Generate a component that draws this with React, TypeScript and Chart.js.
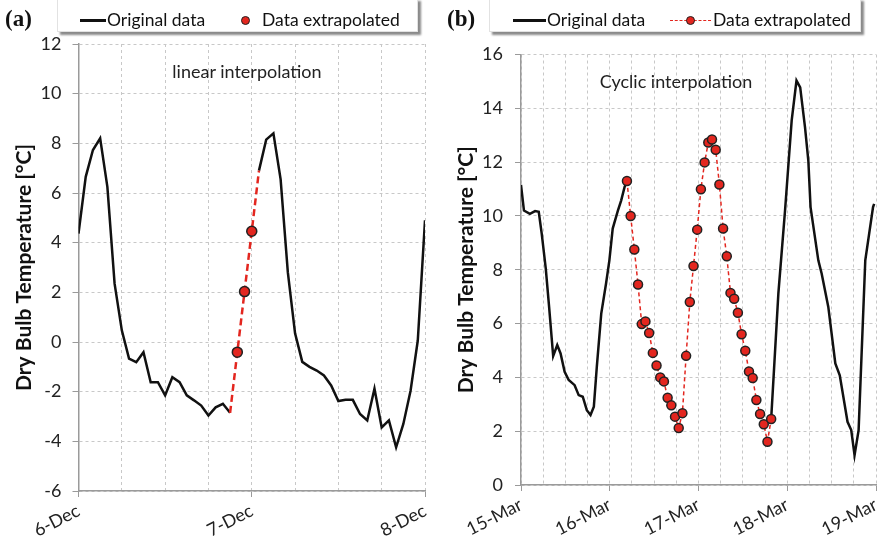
import React, { useEffect, useRef } from 'react';
import { Chart, registerables } from 'chart.js';

Chart.register(...registerables);

const FONT = 'Lato, "Open Sans", sans-serif';
const RED = '#e3261f';
const GRID = '#c8c8c8';
const AXIS = '#9a9a9a';
const TXT = '#222';

// ---------- Panel (a): December, linear interpolation ----------
const decTickLabels = ['6-Dec', '7-Dec', '8-Dec'];
const decOrigAStart = 0; // hours after 6-Dec 00:00
const decOrigA = [4.37, 6.65, 7.73, 8.2, 6.25, 2.35, 0.47, -0.67, -0.81, -0.41, -1.62, -1.62, -2.15, -1.42, -1.62, -2.15, -2.35, -2.56, -2.96, -2.63, -2.49, -2.85];
const decOrigBStart = 25;
const decOrigB = [6.9, 8.15, 8.4, 6.55, 2.8, 0.35, -0.8, -1.0, -1.15, -1.35, -1.75, -2.38, -2.33, -2.33, -2.9, -3.16, -1.88, -3.44, -3.16, -4.24, -3.3, -1.96, 0.06, 4.9];
const decInterpStart = 21;
const decInterp = [-2.85, -0.41, 2.03, 4.46, 6.9];
const decInterpMarkers = [false, true, true, true, false];

// ---------- Panel (b): March, cyclic interpolation ----------
const marTickLabels = ['15-Mar', '16-Mar', '17-Mar', '18-Mar', '19-Mar'];
const marOrigAHours = [0, 0.8, 2.4, 3.8, 4.8, 5.6, 6.7, 7.6, 8.7, 9.8, 10.7, 11.8, 12.9, 14.5, 15.6, 16.7, 17.8, 18.8, 19.7, 20.5, 21.7, 23.0, 23.9, 24.8, 26.2, 27.1, 28.0, 28.65];
const marOrigA = [11.15, 10.2, 10.08, 10.18, 10.15, 9.34, 8.04, 6.62, 4.79, 5.2, 4.89, 4.21, 3.9, 3.71, 3.34, 3.28, 2.78, 2.6, 2.91, 4.39, 6.37, 7.49, 8.35, 9.53, 10.2, 10.58, 11.07, 11.3];
const marInterpStart = 28.65;
const marInterp = [11.3, 10.0, 8.75, 7.45, 5.98, 6.08, 5.65, 4.91, 4.44, 4.0, 3.85, 3.24, 2.96, 2.54, 2.12, 2.67, 4.8, 6.8, 8.14, 9.49, 10.99, 11.99, 12.73, 12.84, 12.46, 11.17, 9.53, 8.5, 7.14, 6.92, 6.4, 5.6, 4.99, 4.22, 3.98, 3.16, 2.64, 2.26, 1.61, 2.45];
const marOrigBHours = [67.65, 69.6, 71.4, 73.2, 74.5, 75.5, 76.8, 77.7, 78.3, 80.4, 81.3, 83.1, 85.0, 86.2, 88.3, 89.3, 90.2, 91.3, 93.1, 95.2, 95.5];
const marOrigB = [2.45, 7.12, 10.2, 13.55, 15.03, 14.78, 13.3, 12.06, 10.33, 8.35, 7.86, 6.62, 4.52, 4.08, 2.35, 2.04, 1.11, 2.04, 8.35, 10.33, 10.45];

const Y_TITLE = 'Dry Bulb Temperature [°C]';

type PanelCfg = {
  xMax: number; yMin: number; yMax: number; labels: string[];
  yWidth: number; xHeight: number; padTop: number; padRight: number;
  titlePad: number; yTickPad: number;
};

function panelOptions(p: PanelCfg): any {
  return {
    responsive: false,
    animation: false,
    events: [],
    layout: { padding: { top: p.padTop, right: p.padRight, left: 0, bottom: 0 } },
    plugins: { legend: { display: false }, tooltip: { enabled: false } },
    scales: {
      x: {
        type: 'linear',
        min: 0,
        max: p.xMax,
        afterFit: (s: any) => { s.height = p.xHeight; s.paddingRight = 0; },
        ticks: {
          stepSize: 6,
          autoSkip: false,
          maxRotation: 27,
          minRotation: 27,
          padding: 3,
          color: TXT,
          font: { family: FONT, size: 18 },
          callback: (v: number) => (v % 24 === 0 ? p.labels[Math.round(v / 24)] : ''),
        },
        grid: {
          color: GRID,
          lineWidth: 1,
          tickLength: 6,
          tickColor: (c: any) => (c.tick && c.tick.value % 24 === 0 ? AXIS : 'rgba(0,0,0,0)'),
        },
        border: { display: true, color: AXIS, width: 1.5, dash: [3, 3] },
      },
      y: {
        min: p.yMin,
        max: p.yMax,
        afterFit: (s: any) => { s.width = p.yWidth; },
        ticks: { stepSize: 2, padding: p.yTickPad, color: TXT, font: { family: FONT, size: 18 } },
        grid: { color: GRID, lineWidth: 1, tickLength: 6, tickColor: AXIS },
        border: { display: true, color: AXIS, width: 1.5, dash: [3, 3] },
        title: {
          display: true,
          text: Y_TITLE,
          color: '#111',
          font: { family: FONT, size: 21, weight: 'bold' },
          padding: { top: p.titlePad, bottom: 0 },
        },
      },
    },
  };
}

function configA(): any {
  return {
    type: 'line',
    data: {
      datasets: [
        {
          data: decInterp.map((v, i) => ({ x: decInterpStart + i, y: v })),
          borderColor: RED,
          borderWidth: 2.5,
          borderDash: [7, 4],
          pointRadius: decInterpMarkers.map((m) => (m ? 5 : 0)),
          pointBackgroundColor: RED,
          pointBorderColor: '#222',
          pointBorderWidth: 1.5,
          tension: 0,
        },
        {
          data: decOrigA.map((v, i) => ({ x: decOrigAStart + i, y: v })),
          borderColor: '#111',
          borderWidth: 2.5,
          pointRadius: 0,
          tension: 0,
        },
        {
          data: decOrigB.map((v, i) => ({ x: decOrigBStart + i, y: v })),
          borderColor: '#111',
          borderWidth: 2.5,
          pointRadius: 0,
          tension: 0,
        },
      ],
    },
    options: panelOptions({
      xMax: 48, yMin: -6, yMax: 12, labels: decTickLabels,
      yWidth: 78.5, xHeight: 54, padTop: 44, padRight: 16, titlePad: 12, yTickPad: 11,
    }),
  };
}

function configB(): any {
  return {
    type: 'line',
    data: {
      datasets: [
        {
          data: marInterp.map((v, i) => ({ x: marInterpStart + i, y: v })),
          borderColor: RED,
          borderWidth: 1.5,
          borderDash: [4, 3],
          pointRadius: 4.5,
          pointBackgroundColor: RED,
          pointBorderColor: '#222',
          pointBorderWidth: 1.5,
          tension: 0,
        },
        {
          data: marOrigA.map((v, i) => ({ x: marOrigAHours[i], y: v })),
          borderColor: '#111',
          borderWidth: 2.5,
          pointRadius: 0,
          tension: 0,
        },
        {
          data: marOrigB.map((v, i) => ({ x: marOrigBHours[i], y: v })),
          borderColor: '#111',
          borderWidth: 2.5,
          pointRadius: 0,
          tension: 0,
        },
      ],
    },
    options: panelOptions({
      xMax: 96, yMin: 0, yMax: 16, labels: marTickLabels,
      yWidth: 80, xHeight: 60, padTop: 54.5, padRight: 4, titlePad: 13, yTickPad: 12,
    }),
  };
}

function Panel({ make, left }: { make: () => any; left: number }) {
  const ref = useRef<HTMLCanvasElement>(null);
  useEffect(() => {
    const chart = new Chart(ref.current as HTMLCanvasElement, make());
    return () => chart.destroy();
  }, []);
  return (
    <canvas
      ref={ref}
      width={441}
      height={545}
      style={{ position: 'absolute', left, top: 0, width: 441, height: 545 }}
    />
  );
}

const abs = (s: React.CSSProperties): React.CSSProperties => ({ position: 'absolute', ...s });
const legendText: React.CSSProperties = {
  position: 'absolute', top: 8, fontFamily: FONT, fontSize: 17.5, color: '#111', lineHeight: '24px', whiteSpace: 'nowrap',
};
const dot = (cx: number, cy: number, r: number): React.CSSProperties => ({
  position: 'absolute', left: cx - r, top: cy - r, width: r * 2, height: r * 2, borderRadius: '50%',
  background: RED, border: '1.5px solid #222', boxSizing: 'border-box',
});

export default function App() {
  return (
    <div style={{ position: 'absolute', left: 0, top: 0, width: 882, height: 545, background: '#fff', overflow: 'hidden' }}>
      <Panel make={configA} left={0} />
      <Panel make={configB} left={441} />

      {/* Legend (a) */}
      <div style={abs({ left: 57, top: -2, width: 361, height: 34, background: '#fff', border: '1px solid #e2e2e2', boxShadow: '3px 3px 2px #8a8a8a', boxSizing: 'border-box' })} />
      <div style={abs({ left: 80, top: 19, width: 26, height: 2.5, background: '#111' })} />
      <div style={{ ...legendText, left: 107 }}>Original data</div>
      <div style={dot(245, 20, 4.5)} />
      <div style={{ ...legendText, left: 262 }}>Data extrapolated</div>

      {/* Legend (b) */}
      <div style={abs({ left: 489, top: -2, width: 372, height: 34, background: '#fff', border: '1px solid #e2e2e2', boxShadow: '3px 3px 2px #8a8a8a', boxSizing: 'border-box' })} />
      <div style={abs({ left: 513, top: 19, width: 33, height: 2.5, background: '#111' })} />
      <div style={{ ...legendText, left: 547 }}>Original data</div>
      <div style={abs({ left: 670, top: 19.5, width: 41, height: 0, borderTop: `1.5px dashed ${RED}` })} />
      <div style={dot(690, 20, 4.5)} />
      <div style={{ ...legendText, left: 713 }}>Data extrapolated</div>

      {/* Panel letters */}
      <div style={abs({ left: 5, top: 6, fontFamily: '"Liberation Serif", "DejaVu Serif", serif', fontWeight: 'bold', fontSize: 23, color: '#111' })}>(a)</div>
      <div style={abs({ left: 447, top: 6, fontFamily: '"Liberation Serif", "DejaVu Serif", serif', fontWeight: 'bold', fontSize: 23, color: '#111' })}>(b)</div>

      {/* Annotations */}
      <div style={abs({ left: 247, top: 71, transform: 'translate(-50%, -50%)', fontFamily: FONT, fontSize: 18, color: '#222', whiteSpace: 'nowrap' })}>linear interpolation</div>
      <div style={abs({ left: 676, top: 81, transform: 'translate(-50%, -50%)', fontFamily: FONT, fontSize: 18, color: '#222', whiteSpace: 'nowrap' })}>Cyclic interpolation</div>
    </div>
  );
}
